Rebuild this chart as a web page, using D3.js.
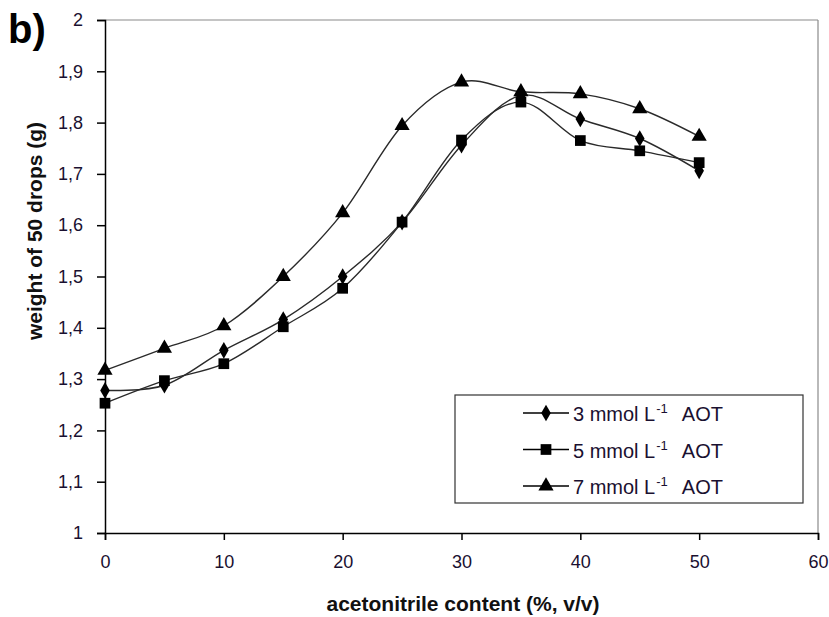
<!DOCTYPE html>
<html><head><meta charset="utf-8">
<script src="https://cdn.jsdelivr.net/npm/d3@7"></script>
<style>body{margin:0;background:#fff}svg{display:block}text{font-family:"Liberation Sans",Arial,sans-serif}</style>
</head><body>
<svg id="c" width="829" height="617"></svg>
<script>
const xValues = [0,5,10,15,20,25,30,35,40,45,50];
const s3 = [1.278,1.288,1.356,1.416,1.500,1.606,1.756,1.853,1.807,1.769,1.706];
const s5 = [1.253,1.297,1.330,1.402,1.477,1.606,1.766,1.840,1.765,1.745,1.722];
const s7 = [1.317,1.360,1.404,1.500,1.624,1.794,1.879,1.860,1.856,1.827,1.773];
const seriesNames = ["3 mmol L","5 mmol L","7 mmol L"];
const seriesMarkers = ["diamond","square","triangle"];
const xTicks = [0,10,20,30,40,50,60];
const yTicks = [1,1.1,1.2,1.3,1.4,1.5,1.6,1.7,1.8,1.9,2];

const svg = d3.select("#c");
const x = d3.scaleLinear().domain([0,60]).range([105,818]);
const y = d3.scaleLinear().domain([1,2]).range([533,20]);

// frame
svg.append("line").attr("x1",x(0)).attr("x2",x(60)).attr("y1",y(2)).attr("y2",y(2)).attr("stroke","#8a8a8a").attr("stroke-width",1.2);
svg.append("line").attr("x1",x(60)).attr("x2",x(60)).attr("y1",y(2)).attr("y2",y(1)).attr("stroke","#8a8a8a").attr("stroke-width",1.2);

const fmt = d => String(+d.toFixed(1)).replace(".",",");
const yAxis = svg.append("g").attr("transform",`translate(${x(0)},0)`)
  .call(d3.axisLeft(y).tickValues(yTicks).tickFormat(fmt).tickSizeOuter(0).tickSize(8).tickPadding(14));
const xAxis = svg.append("g").attr("transform",`translate(0,${y(1)})`)
  .call(d3.axisBottom(x).tickValues(xTicks).tickFormat(d3.format("d")).tickSizeOuter(0).tickSize(7).tickPadding(15));
[yAxis,xAxis].forEach(g=>{
  g.selectAll("path").attr("stroke","#000").attr("stroke-width",1.5);
  g.selectAll("line").attr("stroke","#000").attr("stroke-width",1.5);
  g.selectAll("text").attr("font-size",18).attr("fill","#1a1030").attr("font-family","Liberation Sans, Arial, sans-serif");
});

const series = [s3,s5,s7];
const line = d3.line().x((d,i)=>x(xValues[i])).y(d=>y(d)).curve(d3.curveCardinal.tension(0));
const symMap = {diamond:d3.symbolDiamond, square:d3.symbolSquare, triangle:d3.symbolTriangle};
const symSize = {diamond:80, square:115, triangle:100};

series.forEach((s,k)=>{
  svg.append("path").attr("d",line(s)).attr("fill","none").attr("stroke","#2a2a2a").attr("stroke-width",1.4);
});
series.forEach((s,k)=>{
  const m = seriesMarkers[k];
  svg.append("g").selectAll("path").data(s).join("path")
    .attr("transform",(d,i)=>`translate(${x(xValues[i])},${y(d)})`)
    .attr("d",d3.symbol(symMap[m],symSize[m])).attr("fill","#000");
});

// legend
const lg = svg.append("g");
lg.append("rect").attr("x",455).attr("y",395).attr("width",348).attr("height",108).attr("fill","#fff").attr("stroke","#333").attr("stroke-width",1.2);
seriesNames.forEach((n,k)=>{
  const yy = 413 + k*36.5;
  lg.append("line").attr("x1",523).attr("x2",569).attr("y1",yy).attr("y2",yy).attr("stroke","#000").attr("stroke-width",1.4);
  const m = seriesMarkers[k];
  lg.append("path").attr("transform",`translate(546,${yy})`).attr("d",d3.symbol(symMap[m],symSize[m])).attr("fill","#000");
  const t = lg.append("text").attr("x",573).attr("y",yy+8).attr("font-size",20).attr("fill","#1a1030");
  t.append("tspan").text(n);
  t.append("tspan").attr("dy",-8).attr("dx",1).attr("font-size",13).text("-1");
  t.append("tspan").attr("dy",8).attr("dx",14).text("AOT");
});

// axis titles
svg.append("text").attr("x",463).attr("y",611).attr("text-anchor","middle").attr("font-size",21).attr("font-weight","bold").attr("fill","#111").text("acetonitrile content (%, v/v)");
svg.append("text").attr("transform","translate(42,231) rotate(-90)").attr("text-anchor","middle").attr("font-size",21).attr("font-weight","bold").attr("fill","#111").text("weight of 50 drops (g)");
svg.append("text").attr("x",8).attr("y",43).attr("font-size",40).attr("font-weight","bold").attr("fill","#000").text("b)");
</script>
</body></html>
